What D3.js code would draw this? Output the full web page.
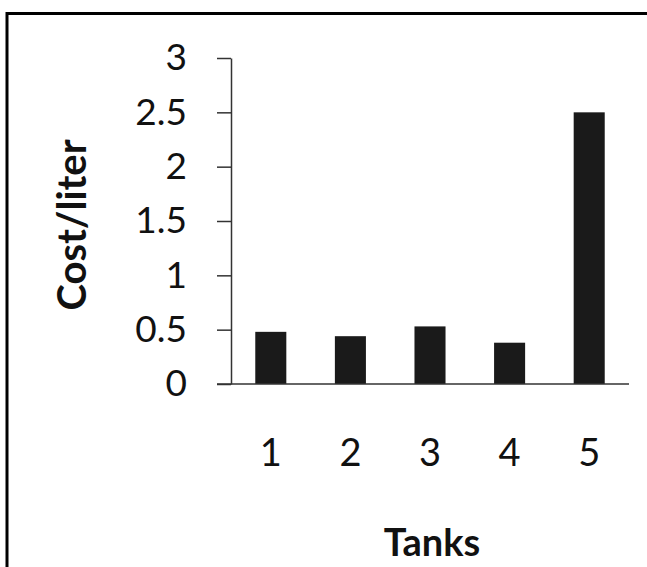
<!DOCTYPE html>
<html><head><meta charset="utf-8">
<script src="https://cdn.jsdelivr.net/npm/d3@7"></script>
<style>body{margin:0;background:#fff}svg{display:block}</style>
</head><body>
<svg id="c" width="647" height="567"></svg>
<script>
const categories = ["1","2","3","4","5"];
const values = [0.48, 0.44, 0.53, 0.38, 2.5];
const yTicks = [0, 0.5, 1, 1.5, 2, 2.5, 3];
const yLabel = "Cost/liter";
const xLabel = "Tanks";

const svg = d3.select("#c");
svg.append("rect").attr("x",7).attr("y",13.5).attr("width",660).attr("height",600)
  .attr("fill","#fff").attr("stroke","#000").attr("stroke-width",3);

const x0 = 231, x1 = 629, yTop = 58, yBot = 384;
const x = d3.scaleBand().domain(categories).range([x0,x1]).paddingInner(0.61).paddingOuter(0.305);
const y = d3.scaleLinear().domain([0,3]).range([yBot,yTop]);
const font = "Lato, 'Open Sans', sans-serif";

svg.append("g").selectAll("rect").data(values).join("rect")
  .attr("x",(d,i)=>x(categories[i])).attr("width",x.bandwidth())
  .attr("y",d=>y(d)).attr("height",d=>y(0)-y(d)).attr("fill","#1a1a1a");

const ya = svg.append("g").attr("transform",`translate(${x0},0)`)
  .call(d3.axisLeft(y).tickValues(yTicks).tickSize(14).tickPadding(30).tickSizeOuter(0).tickFormat(d3.format("")));
ya.select(".domain").attr("stroke","#333").attr("stroke-width",1.5);
ya.selectAll(".tick line").attr("stroke","#333").attr("stroke-width",1.5);
ya.selectAll(".tick text").attr("font-family",font).attr("font-size",37).attr("fill","#111");

const xa = svg.append("g").attr("transform",`translate(0,${yBot})`)
  .call(d3.axisBottom(x).tickSize(0).tickPadding(55).tickSizeOuter(0));
xa.select(".domain").attr("d",`M${x0-14},0H${x1}`).attr("stroke","#333").attr("stroke-width",1.5);
xa.selectAll(".tick text").attr("font-family",font).attr("font-size",38).attr("fill","#111");

svg.append("text").attr("transform",`translate(86,225) rotate(-90)`).attr("text-anchor","middle")
  .attr("font-family",font).attr("font-weight","bold").attr("font-size",40).attr("fill","#111").text(yLabel);
svg.append("text").attr("x",432).attr("y",556).attr("text-anchor","middle")
  .attr("font-family",font).attr("font-weight","bold").attr("font-size",38).attr("fill","#111").text(xLabel);
</script>
</body></html>
